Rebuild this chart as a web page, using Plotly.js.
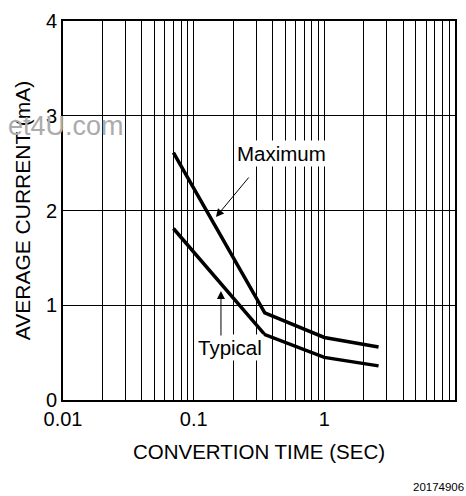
<!DOCTYPE html>
<html>
<head>
<meta charset="utf-8">
<script src="https://cdn.plot.ly/plotly-3.0.1.min.js"></script>
<style>html,body{margin:0;padding:0;background:#fff;}#chart{width:466px;height:496px;}</style>
</head>
<body>
<div id="chart"></div>
<script>
// Data
var convTime = [0.07, 0.35, 1, 2.6];
var maxCurrent = [2.61, 0.92, 0.66, 0.56];
var typCurrent = [1.81, 0.69, 0.45, 0.36];

var xTickVals = [0.01,0.02,0.03,0.04,0.05,0.06,0.07,0.08,0.09,
                 0.1,0.2,0.3,0.4,0.5,0.6,0.7,0.8,0.9,
                 1,2,3,4,5,6,7,8,9,10];
var xTickText = ['0.01','','','','','','','','',
                 '0.1','','','','','','','','',
                 '1','','','','','','','','','10'];
var yTickVals = [0,1,2,3,4];
var yTickText = ['0','1','2','3','4'];

var FONT = 'Liberation Sans, Arial, sans-serif';

var traces = [
  {x: convTime, y: maxCurrent, mode: 'lines', name: 'Maximum',
   line: {color: '#000', width: 3.5}, hoverinfo: 'skip'},
  {x: convTime, y: typCurrent, mode: 'lines', name: 'Typical',
   line: {color: '#000', width: 3.5}, hoverinfo: 'skip'}
];

function lx(px) { return -2 + (px - 63) / 130.7; }
function ly(py) { return (400 - py) / 94.75; }

var layout = {
  width: 466, height: 496,
  margin: {l: 63, r: 11, t: 21, b: 96},
  paper_bgcolor: '#fff', plot_bgcolor: '#fff',
  showlegend: false,
  font: {family: FONT, size: 20, color: '#000'},
  xaxis: {
    type: 'log', range: [-2, 1],
    tickvals: xTickVals, ticktext: xTickText,
    ticks: '', showgrid: true, gridcolor: '#000', gridwidth: 1,
    showline: true, linecolor: '#000', linewidth: 2, mirror: true,
    zeroline: false, tickfont: {size: 20, family: FONT},
    title: {text: 'CONVERTION TIME (SEC)', font: {size: 20.5, family: FONT}, standoff: 16}
  },
  yaxis: {
    range: [0, 4],
    tickvals: yTickVals, ticktext: yTickText,
    ticks: '', showgrid: true, gridcolor: '#000', gridwidth: 1,
    showline: true, linecolor: '#000', linewidth: 2, mirror: true,
    zeroline: false, tickfont: {size: 20, family: FONT},
    title: {text: 'AVERAGE CURRENT (mA)', font: {size: 21, family: FONT}, standoff: 10}
  },
  annotations: [
    {xref: 'paper', yref: 'paper', x: (126 - 63) / 392, y: (400 - 126) / 379,
     xanchor: 'right', yanchor: 'middle', showarrow: false,
     text: 'et4U.com', font: {size: 27, color: '#ababab', family: FONT}},
    {xref: 'x', yref: 'y', x: lx(282), y: ly(153), showarrow: false,
     text: 'Maximum', bgcolor: '#fff', borderpad: 1, font: {size: 20.5, family: FONT}},
    {xref: 'x', yref: 'y', x: lx(216), y: ly(217), ax: 34, ay: -41, text: '',
     showarrow: true, arrowhead: 2, arrowsize: 1.6, arrowwidth: 1, arrowcolor: '#000'},
    {xref: 'x', yref: 'y', x: lx(230.5), y: ly(347), showarrow: false,
     text: 'Typical', bgcolor: '#fff', borderpad: 1, font: {size: 20.5, family: FONT}},
    {xref: 'x', yref: 'y', x: lx(221), y: ly(291), ax: 0, ay: 46, text: '',
     showarrow: true, arrowhead: 2, arrowsize: 1.6, arrowwidth: 1, arrowcolor: '#000'},
    {xref: 'paper', yref: 'paper', x: (411 - 63) / 392, y: (400 - 487) / 379,
     xanchor: 'left', yanchor: 'middle', showarrow: false,
     text: '20174906', font: {size: 11.5, family: FONT}}
  ]
};

Plotly.newPlot('chart', traces, layout, {staticPlot: true, displayModeBar: false});
</script>
</body>
</html>
